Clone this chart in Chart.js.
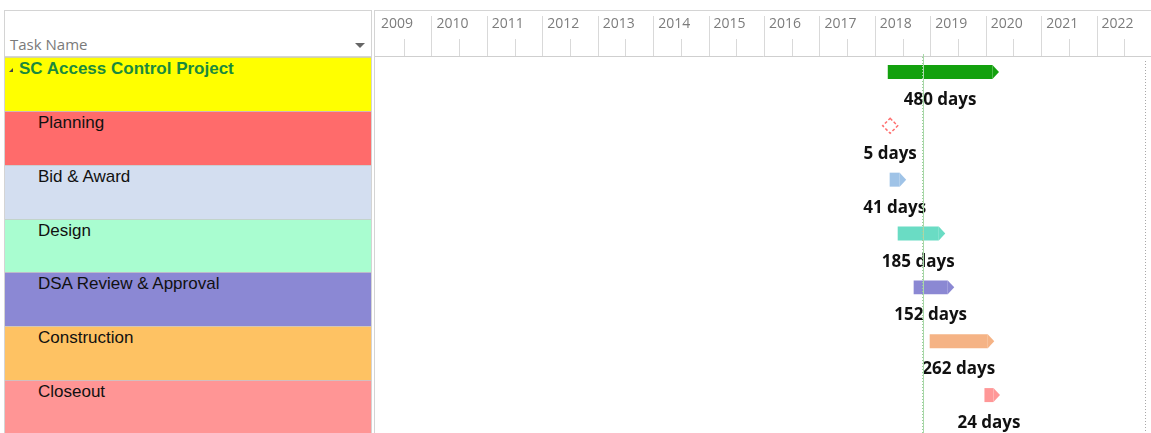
<!DOCTYPE html>
<html lang="en">
<head>
    <meta charset="UTF-8">
    <title>SC Access Control Project</title>
    <script src="https://cdn.jsdelivr.net/npm/chart.js"></script>
    <style>
        html, body {
            margin: 0;
            background: #ffffff;
            overflow: hidden;
        }
        #left {
            position: absolute;
            left: 4px;
            top: 10px;
            width: 366px;
            height: 423px;
            border: 1px solid #d4d4d4;
            border-bottom: none;
            display: flex;
            flex-direction: column;
            font-family: "Liberation Sans", Arial, sans-serif;
        }
        #left .head {
            height: 45px;
            flex: none;
            border-bottom: 1px solid #d4d4d4;
            position: relative;
            font-family: "Open Sans", sans-serif;
            font-size: 15px;
            color: #7a7a7a;
        }
        #left .head span {
            position: absolute;
            left: 5px;
            bottom: 2px;
        }
        #left .head .caret {
            position: absolute;
            right: 6px;
            bottom: 8px;
            width: 0;
            height: 0;
            border-left: 5px solid transparent;
            border-right: 5px solid transparent;
            border-top: 5px solid #666;
        }
        #left .row {
            flex: 1;
            box-sizing: border-box;
            border-top: 1px solid rgba(200, 200, 200, 0.8);
            padding: 1px 0 0 33px;
            font-size: 17px;
            line-height: 20px;
            color: #111;
        }
        #left .row:first-of-type { border-top: none; }
        #left .row.summary {
            padding-left: 14px;
            font-weight: bold;
            color: #1a8a3c;
            position: relative;
        }
        #left .row.summary .tri {
            position: absolute;
            left: 4px;
            top: 10px;
            width: 0;
            height: 0;
            border-left: 4px solid transparent;
            border-bottom: 4px solid #444;
        }
        #chartBox {
            position: absolute;
            left: 374px;
            top: 10px;
            width: 777px;
            height: 423px;
            border-left: 1px solid #d4d4d4;
            border-top: 1px solid #d4d4d4;
        }
    </style>
</head>
<body>
    <div id="left"></div>
    <div id="chartBox"><canvas id="gantt"></canvas></div>

    <script>
        // datos del cronograma (años decimales)
        const tasks = ['SC Access Control Project', 'Planning', 'Bid & Award', 'Design',
                       'DSA Review & Approval', 'Construction', 'Closeout'];
        const startYear = [2018.233, 2018.262, 2018.267, 2018.412, 2018.700, 2018.989, 2019.977];
        const endYear   = [2020.122, 2018.290, 2018.448, 2019.153, 2019.315, 2020.037, 2020.140];
        const durations = ['480 days', '5 days', '41 days', '185 days', '152 days', '262 days', '24 days'];
        const yearMin = 2009;
        const yearMax = 2023;
        const todayYear = 2018.863;
        const statusYear = 2022.874;
        const milestoneTask = 'Planning';

        const rowColors = ['#ffff00', '#ff6b6b', '#d3def0', '#a9fdd0', '#8b88d4', '#fec263', '#ff9595'];
        const barColors = ['#13a10e', 'rgba(0,0,0,0)', '#9fc3e7', '#6adcc4', '#8b88d3', '#f5b385', '#ff9797'];

        // panel izquierdo con los nombres
        const left = document.getElementById('left');
        left.innerHTML = '<div class="head"><span>Task Name</span><div class="caret"></div></div>' +
            tasks.map((t, i) => {
                const name = t.replace('&', '&amp;');
                if (i === 0) {
                    return `<div class="row summary" style="background:${rowColors[i]}"><div class="tri"></div>${name}</div>`;
                }
                return `<div class="row" style="background:${rowColors[i]}">${name}</div>`;
            }).join('');

        // cabecera: separadores de años y medios años, líneas de hoy y estado
        const timelinePlugin = {
            id: 'timeline',
            afterDraw(chart) {
                const ctx = chart.ctx;
                const xs = chart.scales.x;
                const area = chart.chartArea;
                ctx.save();
                ctx.strokeStyle = '#d9d9d9';
                ctx.lineWidth = 1;
                for (let v = yearMin; v < yearMax; v += 0.5) {
                    if (v === yearMin) continue;
                    const px = Math.round(xs.getPixelForValue(v)) + 0.5;
                    const top = Number.isInteger(v) ? 5 : 28;
                    ctx.beginPath();
                    ctx.moveTo(px, top);
                    ctx.lineTo(px, area.top);
                    ctx.stroke();
                }
                ctx.strokeStyle = '#cfcfcf';
                ctx.beginPath();
                ctx.moveTo(0, area.top - 0.5);
                ctx.lineTo(chart.width, area.top - 0.5);
                ctx.stroke();

                // línea de hoy
                const tx = Math.round(xs.getPixelForValue(todayYear)) + 0.5;
                ctx.strokeStyle = '#a9d8a9';
                ctx.beginPath();
                ctx.moveTo(tx, area.top - 3);
                ctx.lineTo(tx, area.bottom);
                ctx.stroke();
                ctx.strokeStyle = '#9ccf9c';
                ctx.setLineDash([1, 2]);
                ctx.beginPath();
                ctx.moveTo(tx - 1, area.top);
                ctx.lineTo(tx - 1, area.bottom);
                ctx.stroke();

                // línea de estado
                const sx = Math.round(xs.getPixelForValue(statusYear)) + 0.5;
                ctx.strokeStyle = '#a8a8a8';
                ctx.beginPath();
                ctx.moveTo(sx, area.top + 4);
                ctx.lineTo(sx, area.bottom);
                ctx.stroke();
                ctx.restore();
            },
            afterDatasetsDraw(chart) {
                const ctx = chart.ctx;
                const meta = chart.getDatasetMeta(0);
                ctx.save();
                meta.data.forEach((bar, i) => {
                    const {x, y, base, height} = bar.getProps(['x', 'y', 'base', 'height'], true);
                    let cx = (x + base) / 2;
                    if (tasks[i] === milestoneTask) {
                        const r = 7.5;
                        ctx.strokeStyle = '#ff6e6e';
                        ctx.lineWidth = 1.5;
                        ctx.setLineDash([3, 2]);
                        ctx.beginPath();
                        ctx.moveTo(cx, y - r);
                        ctx.lineTo(cx + r, y);
                        ctx.lineTo(cx, y + r);
                        ctx.lineTo(cx - r, y);
                        ctx.closePath();
                        ctx.stroke();
                        ctx.setLineDash([]);
                    } else {
                        // punta de flecha
                        ctx.fillStyle = barColors[i];
                        ctx.beginPath();
                        ctx.moveTo(x, y - height / 2);
                        ctx.lineTo(x + 6.5, y);
                        ctx.lineTo(x, y + height / 2);
                        ctx.closePath();
                        ctx.fill();
                    }
                    ctx.fillStyle = '#111';
                    ctx.font = 'bold 17px "Open Sans", sans-serif';
                    ctx.textAlign = 'center';
                    ctx.textBaseline = 'alphabetic';
                    ctx.fillText(durations[i], cx, y + 33);
                });
                ctx.restore();
            }
        };

        const ctx = document.getElementById('gantt').getContext('2d');
        new Chart(ctx, {
            type: 'bar',
            data: {
                labels: tasks,
                datasets: [{
                    label: 'Duration',
                    data: tasks.map((t, i) => [startYear[i], endYear[i]]),
                    backgroundColor: barColors,
                    categoryPercentage: 0.89,
                    barPercentage: 0.584
                }, {
                    label: '',
                    data: tasks.map(() => null),
                    backgroundColor: 'rgba(0,0,0,0)',
                    categoryPercentage: 0.89,
                    barPercentage: 0.584
                }]
            },
            options: {
                indexAxis: 'y',
                responsive: true,
                maintainAspectRatio: false,
                animation: false,
                layout: { padding: { left: 1, right: 0, top: 0, bottom: 0 } },
                plugins: {
                    legend: { display: false },
                    tooltip: { enabled: false }
                },
                scales: {
                    x: {
                        type: 'linear',
                        position: 'top',
                        min: yearMin,
                        max: yearMax,
                        grid: { display: false, drawTicks: false },
                        border: { display: false },
                        ticks: {
                            stepSize: 1,
                            align: 'start',
                            labelOffset: 5,
                            padding: 25,
                            autoSkip: false,
                            maxRotation: 0,
                            color: '#7c7c7c',
                            font: { family: 'Open Sans', size: 14 },
                            callback: v => v < yearMax ? String(v) : ''
                        },
                        afterFit: s => {
                            s.height = 46;
                            s.paddingLeft = 0;
                            s.paddingRight = 0;
                            s.paddingTop = 0;
                            s.paddingBottom = 0;
                        }
                    },
                    y: {
                        display: false,
                        stacked: false
                    }
                }
            },
            plugins: [timelinePlugin]
        });
    </script>
</body>
</html>
